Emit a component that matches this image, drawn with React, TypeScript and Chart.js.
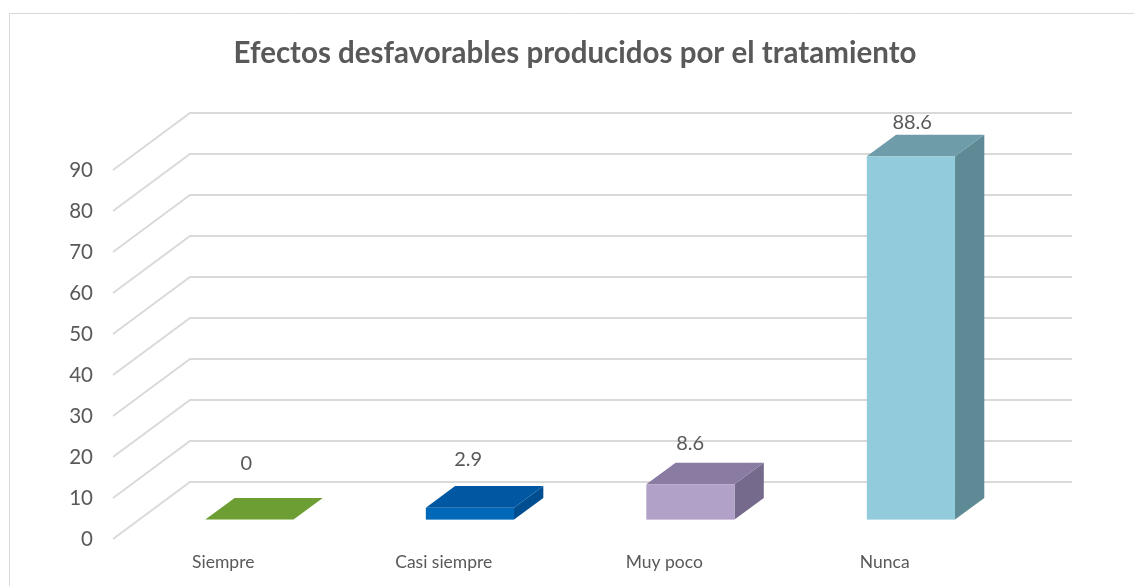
import React, { useEffect, useRef } from "react";
import { Chart, registerables } from "chart.js";

Chart.register(...registerables);

// ---- data ----
const chartTitle = "Efectos desfavorables producidos por el tratamiento";
const categories = ["Siempre", "Casi siempre", "Muy poco", "Nunca"];
const values = [0, 2.9, 8.6, 88.6];
const yMin = 0;
const yMax = 90;
const yStep = 10;

// ---- styles ----
const frontColors = ["#77AD3C", "#0068B8", "#B1A1C9", "#92CCDC"];
const topColors = ["#6C9E33", "#0058A2", "#8A7BA3", "#6E9DA9"];
const sideColors = ["#5A8A2A", "#004E90", "#766A8C", "#5E8A95"];
const TEXT = "#595959";
const GRID = "#d9d9d9";
const FONT = "Lato, 'Open Sans', sans-serif";
const DEPTH = { x: 77, y: -57 };
const BAR_FRONT = 0.34;
const BAR_BACK = 0.72;

const box3dPlugin = {
  id: "box3d",
  beforeDraw(chart: any) {
    const { ctx, width, height } = chart;
    ctx.save();
    ctx.fillStyle = "#ffffff";
    ctx.fillRect(0, 0, width, height);
    ctx.strokeStyle = "#d9d9d9";
    ctx.lineWidth = 1;
    ctx.beginPath();
    ctx.moveTo(9.5, height);
    ctx.lineTo(9.5, 13.5);
    ctx.lineTo(width, 13.5);
    ctx.stroke();
    ctx.fillStyle = TEXT;
    ctx.font = `bold 29.5px ${FONT}`;
    ctx.textAlign = "center";
    ctx.textBaseline = "alphabetic";
    ctx.fillText(chartTitle, 575, 63);
    ctx.restore();
  },
  beforeDatasetsDraw(chart: any) {
    const { ctx, chartArea } = chart;
    const yScale = chart.scales.y;
    ctx.save();
    // walls: left side diagonals + back wall horizontals
    ctx.strokeStyle = GRID;
    ctx.lineWidth = 1.8;
    yScale.ticks.forEach((t: any) => {
      const y = yScale.getPixelForValue(t.value);
      ctx.beginPath();
      ctx.moveTo(chartArea.left, y);
      ctx.lineTo(chartArea.left + DEPTH.x, y + DEPTH.y);
      ctx.lineTo(chartArea.right + DEPTH.x, y + DEPTH.y);
      ctx.stroke();
    });
    // bars
    const meta = chart.getDatasetMeta(0);
    const dd = { x: (BAR_BACK - BAR_FRONT) * DEPTH.x, y: (BAR_BACK - BAR_FRONT) * DEPTH.y };
    const span = chartArea.right - chartArea.left;
    meta.data.forEach((el: any, i: number) => {
      const { x, y, base, width } = el.getProps(["x", "y", "base", "width"], true);
      const x0 = x - width / 2 + BAR_FRONT * DEPTH.x;
      const x1 = x0 + width;
      const yt = y + BAR_FRONT * DEPTH.y;
      const yb = base + BAR_FRONT * DEPTH.y;
      // side
      ctx.fillStyle = sideColors[i];
      ctx.beginPath();
      ctx.moveTo(x1, yt);
      ctx.lineTo(x1 + dd.x, yt + dd.y);
      ctx.lineTo(x1 + dd.x, yb + dd.y);
      ctx.lineTo(x1, yb);
      ctx.closePath();
      ctx.fill();
      // front
      ctx.fillStyle = frontColors[i];
      ctx.fillRect(x0, yt, width, yb - yt);
      // top
      ctx.fillStyle = topColors[i];
      ctx.beginPath();
      ctx.moveTo(x0, yt);
      ctx.lineTo(x1, yt);
      ctx.lineTo(x1 + dd.x, yt + dd.y);
      ctx.lineTo(x0 + dd.x, yt + dd.y);
      ctx.closePath();
      ctx.fill();
      // value label (perspective: offset shrinks toward the right)
      const frac = (x - chartArea.left) / span;
      const lift = 38 - 30 * frac;
      ctx.fillStyle = TEXT;
      ctx.font = `20px ${FONT}`;
      ctx.textAlign = "center";
      ctx.textBaseline = "middle";
      ctx.fillText(String(values[i]), x + BAR_FRONT * DEPTH.x + 2 - 6 * (1 - frac), yt + dd.y - lift);
    });
    ctx.restore();
    return false;
  },
};

export default function App() {
  const ref = useRef<HTMLCanvasElement | null>(null);
  useEffect(() => {
    document.body.style.margin = "0";
    if (!ref.current) return;
    const chart = new Chart(ref.current, {
      type: "bar",
      data: {
        labels: categories,
        datasets: [
          {
            data: values,
            backgroundColor: frontColors,
            barPercentage: 0.4,
            categoryPercentage: 1.0,
          },
        ],
      },
      options: {
        animation: false,
        responsive: false,
        devicePixelRatio: 1,
        layout: { padding: { top: 170, right: 139, left: 0, bottom: 0 } },
        plugins: {
          legend: { display: false },
          tooltip: { enabled: false },
          title: { display: false },
        },
        scales: {
          x: {
            grid: { display: false, drawTicks: false },
            border: { display: false },
            ticks: { color: TEXT, font: { family: FONT, size: 17.5 }, padding: 13 },
            afterFit: (s: any) => {
              s.height = 47;
            },
          },
          y: {
            min: yMin,
            max: yMax,
            grid: { display: false, drawTicks: false },
            border: { display: false },
            ticks: { stepSize: yStep, color: TEXT, font: { family: FONT, size: 20.5 }, padding: 20 },
            afterFit: (s: any) => {
              s.width = 113;
            },
          },
        },
      },
      plugins: [box3dPlugin],
    } as any);
    return () => chart.destroy();
  }, []);
  return (
    <div style={{ width: 1134, height: 586 }}>
      <canvas ref={ref} width={1134} height={586} />
    </div>
  );
}
